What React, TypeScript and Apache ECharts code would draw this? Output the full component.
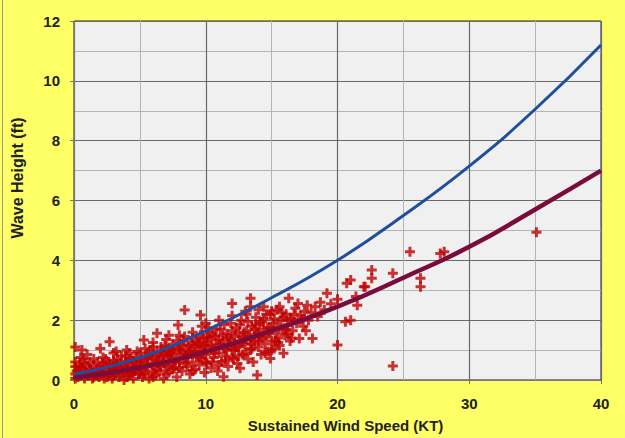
import React, { useEffect, useRef } from "react";
import * as echarts from "echarts";

const xTicks = [0, 10, 20, 30, 40];
const yTicks = [0, 2, 4, 6, 8, 10, 12];

// Curve read-offs: wind speed (KT) -> wave height (ft)
const curveWind = [0, 5, 10, 15, 20, 25, 30, 35, 40];
const blueCurve = [0.2, 0.75, 1.65, 2.75, 4.0, 5.5, 7.15, 9.05, 11.2];
const maroonCurve = [0.08, 0.42, 0.95, 1.65, 2.45, 3.42, 4.45, 5.7, 7.0];

// Observations [wind KT, wave ft]
const observations: [number, number][] = [
  [0.1,0.05],[0.1,0.2],[0.1,0.45],[0.1,0.6],[0.1,1.1],[0.2,0.3],[0.3,0.1],[0.4,0.5],[0.5,0.15],[0.6,1.0],
  [0.6,0.35],[0.7,0.7],[0.8,0.05],[0.9,0.25],[1.0,0.45],[1.1,0.15],[1.2,0.6],[1.3,0.3],[1.4,0.05],[1.5,0.5],
  [1.6,0.2],[1.7,0.35],[1.8,0.6],[1.9,0.1],[2.0,1.05],[2.0,0.4],[2.1,0.25],[2.2,0.55],[2.3,0.05],[2.4,0.7],
  [2.5,0.3],[2.6,0.15],[2.7,1.28],[2.7,0.5],[2.8,0.4],[2.9,0.05],[3.0,0.65],[3.1,0.25],[3.2,0.95],[3.3,0.45],
  [3.4,0.1],[3.5,0.55],[3.6,0.8],[3.7,0.3],[3.8,0.0],[3.9,0.6],[4.0,0.4],[4.1,0.15],[4.2,0.89],[4.3,0.7],
  [4.4,0.5],[4.5,0.05],[4.6,0.3],[4.7,0.75],[4.8,0.55],[4.9,0.2],[5.0,0.9],[5.1,0.4],[5.2,0.1],[5.3,1.34],
  [5.3,0.65],[5.4,0.3],[5.5,0.8],[5.6,0.5],[5.7,0.05],[5.8,1.0],[5.9,0.25],[6.0,0.7],[6.1,0.45],[6.2,0.15],
  [6.3,1.56],[6.3,0.9],[6.4,0.6],[6.5,0.3],[6.6,1.1],[6.7,0.8],[6.8,0.05],[6.9,0.5],[7.0,1.0],[7.1,0.7],
  [7.2,1.5],[7.2,0.25],[7.3,0.9],[7.4,0.55],[7.5,1.2],[7.6,0.4],[7.7,0.75],[7.8,0.1],[7.9,1.84],[7.9,1.05],
  [8.0,0.6],[8.1,0.85],[8.2,0.3],[8.3,1.3],[8.4,2.34],[8.4,0.7],[8.5,1.0],[8.6,0.45],[8.7,1.15],[8.8,0.2],
  [8.9,0.9],[9.0,1.4],[9.0,0.6],[9.1,1.1],[9.2,0.35],[9.3,0.8],[9.4,1.25],[9.5,0.5],[9.6,2.17],[9.6,1.0],
  [9.7,1.8],[9.7,0.7],[9.8,1.4],[9.9,0.25],[10.0,1.1],[10.0,0.85],[10.1,0.55],[10.2,1.3],[10.3,1.6],[10.4,0.4],
  [10.5,1.0],[10.6,0.75],[10.7,1.45],[10.8,1.2],[10.9,0.3],[11.0,0.9],[11.1,1.7],[11.2,0.6],[11.3,1.3],[11.35,0.11],
  [11.4,1.05],[11.5,0.8],[11.6,1.55],[11.7,0.45],[11.8,1.2],[11.9,1.9],[12.0,2.56],[12.0,1.0],[12.1,0.7],[12.2,1.45],
  [12.3,1.75],[12.4,0.55],[12.5,1.1],[12.6,0.39],[12.6,1.3],[12.7,2.0],[12.8,0.85],[12.9,1.6],[13.0,1.2],[13.1,2.2],
  [13.2,0.7],[13.3,1.45],[13.4,2.73],[13.4,2.45],[13.4,1.0],[13.5,1.8],[13.6,0.6],[13.7,1.3],[13.8,2.1],[13.9,0.17],
  [13.9,1.55],[14.0,1.1],[14.1,1.9],[14.2,0.85],[14.3,1.4],[14.4,2.45],[14.4,1.7],[14.5,1.2],[14.6,2.2],[14.7,0.95],
  [14.8,1.55],[14.9,2.2],[14.9,0.72],[15.0,1.3],[15.1,1.9],[15.2,1.05],[15.3,1.6],[15.4,2.35],[15.5,1.4],[15.6,1.15],
  [15.7,2.0],[15.8,1.7],[15.9,0.89],[16.0,1.5],[16.1,2.2],[16.2,1.85],[16.3,2.73],[16.4,1.3],[16.5,2.05],[16.6,1.65],
  [16.8,2.4],[16.9,1.9],[17.0,2.56],[17.1,1.39],[17.2,2.15],[17.4,1.8],[17.5,2.3],[17.7,2.5],[17.8,2.0],[18.0,2.25],
  [18.1,1.39],[18.3,2.45],[18.5,2.12],[18.7,2.6],[19.0,2.35],[19.2,2.9],[19.5,2.55],[20.0,1.17],[20.0,2.7],[20.6,1.95],
  [20.7,3.23],[21.0,3.34],[21.0,2.0],[21.4,2.79],[21.5,2.5],[22.0,3.12],[22.1,3.12],[22.6,3.68],[22.6,3.4],[24.2,3.57],
  [24.2,0.47],[25.5,4.29],[26.3,3.4],[26.3,3.12],[27.8,4.23],[28.1,4.29],[35.1,4.94],
  [0.3,0.3],[0.5,0.4],[0.8,0.55],[1.0,0.2],[1.2,0.35],[1.5,0.25],[1.8,0.15],[2.0,0.3],[2.3,0.45],[2.6,0.6],
  [2.9,0.35],[3.2,0.5],[3.5,0.2],[3.8,0.45],[4.1,0.6],[4.4,0.25],[4.7,0.45],[5.0,0.6],[5.3,0.2],[5.6,0.75],
  [5.9,0.55],[6.2,0.8],[6.5,0.65],[6.8,0.85],[7.1,0.45],[7.4,0.95],[7.7,0.6],[8.0,1.1],[8.3,0.9],[8.6,0.75],
  [8.9,1.2],[9.2,0.95],[9.5,1.2],[9.8,0.9],[10.1,1.4],[10.4,1.15],[10.7,0.9],[11.0,1.35],[11.3,1.5],[11.6,1.0],
  [11.9,1.35],[12.2,1.0],[12.5,1.55],[12.8,1.25],[13.1,1.65],[13.4,1.4],[13.7,1.7],[14.0,1.6],[14.3,1.95],[14.6,1.5],
  [14.9,1.75],[15.2,2.05],[15.5,1.8],[15.8,2.25],[16.1,1.7],[16.4,2.0],[10.0,0.6],[11.0,0.5],[12.0,0.75],[13.0,0.9],
  [14.0,1.3],[15.0,1.0],[9.0,0.3],[8.0,0.4],[7.0,0.2],[6.0,0.1],[5.0,0.2],[4.0,0.1],[3.0,0.15],[2.5,0.1],[1.5,0.1],
  [3.0,0.45],[3.3,0.7],[3.6,0.35],[3.9,0.8],[4.2,0.25],[4.5,0.65],[4.8,0.95],[5.1,0.7],[5.4,1.05],[5.7,0.85],
  [6.0,1.1],[6.3,0.35],[6.6,0.95],[6.9,1.15],[7.2,0.8],[7.5,1.0],[7.8,1.3],[8.1,1.2],[8.4,1.45],[8.7,0.95],
  [9.0,1.6],[9.3,1.3],[9.6,1.5],[9.9,1.15],[10.2,1.75],[10.5,1.5],[10.8,1.7],[11.1,1.2],[11.4,1.85],[11.7,1.4],
  [12.0,1.65],[12.3,1.1],[12.6,1.85],[12.9,1.45],[13.2,1.95],[13.5,1.2],[13.8,1.85],[14.1,1.45],[14.4,2.05],[14.7,1.75],
  [15.0,2.3],[15.3,1.3],[15.6,2.45],[15.9,2.1],[16.2,1.55],[16.7,2.2],[17.3,2.05],[17.6,1.65],[6.6,0.45],[7.5,0.35],
  [8.5,0.55],[9.5,0.75],[10.5,0.6],[11.5,0.65],[12.5,0.8],[13.5,1.05],[14.5,0.9],[15.5,1.25],[16.5,1.4],[4.5,0.4],
  [5.5,0.45],[3.0,0.9],[2.2,0.75],[1.5,0.7],[0.5,0.75],[1.0,0.85],[4.0,1.0],[6.0,1.25],[7.0,1.35],[8.0,1.5],
  [11.0,2.0],[13.0,2.3],[12.0,2.15],[14.0,2.35],[10.0,1.9],
];

const PLUS = "path://M3.5,0H6.5V3.5H10V6.5H6.5V10H3.5V6.5H0V3.5H3.5Z";

export default function App() {
  const ref = useRef<HTMLDivElement>(null);
  useEffect(() => {
    if (!ref.current) return;
    const chart = echarts.init(ref.current, null, { renderer: "svg" });
    const font = "'Liberation Sans', Arial, sans-serif";
    chart.setOption({
      animation: false,
      backgroundColor: "#ffff66",
      grid: {
        left: 74, right: 24, top: 21, bottom: 57,
        show: true, backgroundColor: "#f0f0f0", borderColor: "#222", borderWidth: 1,
      },
      graphic: [
        { type: "line", shape: { x1: 2.5, y1: 0, x2: 2.5, y2: 438 }, style: { stroke: "#9a9a9a", lineWidth: 1 } },
        {
          type: "text", x: 17, y: 178, rotation: Math.PI / 2,
          style: {
            text: "Wave Height (ft)", align: "center", verticalAlign: "middle",
            font: "bold 16px 'Liberation Sans', Arial, sans-serif", fill: "#222",
          },
        },
      ],
      xAxis: {
        type: "value", min: xTicks[0], max: xTicks[xTicks.length - 1], interval: 10,
        name: "Sustained Wind Speed (KT)", nameLocation: "middle", nameGap: 38,
        nameTextStyle: { fontFamily: font, fontWeight: "bold", fontSize: 15, color: "#222", padding: [0, 0, 0, 16] },
        axisLine: { show: true, lineStyle: { color: "#777", width: 1 } },
        axisTick: { show: true, length: 4, lineStyle: { color: "#777" } },
        axisLabel: { margin: 16, fontFamily: font, fontWeight: "bold", fontSize: 15, color: "#222" },
        splitLine: { show: true, lineStyle: { color: "#6a6a6a", width: 1.2 } },
        minorTick: { show: false, splitNumber: 2 },
        minorSplitLine: { show: true, lineStyle: { color: "#b4b4b4", width: 1 } },
      },
      yAxis: {
        type: "value", min: yTicks[0], max: yTicks[yTicks.length - 1], interval: 2,
        axisLine: { show: true, lineStyle: { color: "#777", width: 1 } },
        axisTick: { show: true, length: 4, lineStyle: { color: "#777" } },
        axisLabel: { margin: 14, fontFamily: font, fontWeight: "bold", fontSize: 15, color: "#222" },
        splitLine: { show: true, lineStyle: { color: "#6a6a6a", width: 1.2 } },
        minorTick: { show: false, splitNumber: 2 },
        minorSplitLine: { show: true, lineStyle: { color: "#b4b4b4", width: 1 } },
      },
      series: [
        {
          type: "scatter", name: "Observed", data: observations, symbol: PLUS, symbolSize: 10,
          itemStyle: { color: "#c00000" }, z: 2,
        },
        {
          type: "line", name: "Upper", data: curveWind.map((w, i) => [w, blueCurve[i]]), smooth: true,
          symbol: "none", lineStyle: { color: "#1f4e9e", width: 3 }, z: 4,
        },
        {
          type: "line", name: "Fit", data: curveWind.map((w, i) => [w, maroonCurve[i]]), smooth: true,
          symbol: "none", lineStyle: { color: "#7a0c3c", width: 4.5 }, z: 3,
        },
      ],
    });
    return () => chart.dispose();
  }, []);
  return <div ref={ref} style={{ position: "fixed", left: 0, top: 0, width: 625, height: 438 }} />;
}
